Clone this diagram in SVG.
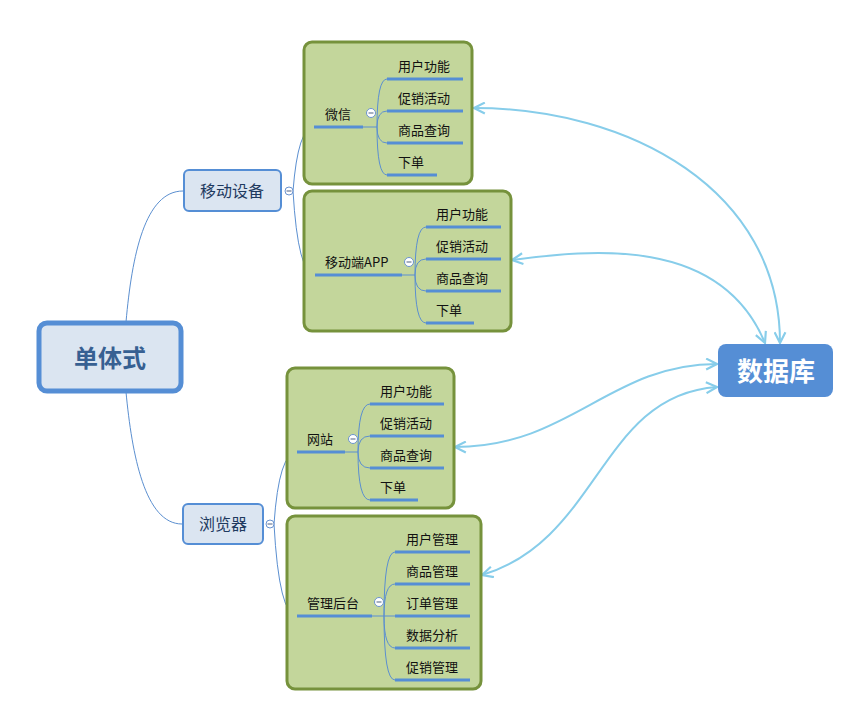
<svg xmlns="http://www.w3.org/2000/svg" width="854" height="710" viewBox="0 0 854 710">
<style>
text{font-family:"Noto Sans CJK SC","Noto Sans",sans-serif}
.node{fill:#dbe5f1;stroke:#558ed5;stroke-width:2}
.grp{fill:#c3d69b;stroke:#76923c;stroke-width:3}
.br{fill:none;stroke:#5b8fd0;stroke-width:1}
.ul{fill:none;stroke:#558ed5;stroke-width:3}
.sub{font-size:13px;fill:#111}
.col{fill:#fff;stroke:#6a93cf;stroke-width:1}
.minus{stroke:#6b7b96;stroke-width:1.2}
.rel{fill:none;stroke:#87cdea;stroke-width:2}
</style>
<defs>
<marker id="ah" viewBox="0 0 12 12" refX="11" refY="6" markerWidth="13" markerHeight="13" markerUnits="userSpaceOnUse" orient="auto-start-reverse">
<path d="M1,1 L11,6 L1,11" fill="none" stroke="#87cdea" stroke-width="2"/>
</marker>
</defs>

<g id="connectors">
<path class="br" d="M126,322 C132,255 145,191 183,191"/>
<path class="br" d="M126,392 C132,455 145,524 182,524"/>
<path class="br" d="M293,191 Q298,127 314,127"/>
<path class="br" d="M293,191 Q298,275 315,275"/>
<path class="br" d="M274,524 Q279,452 297,452"/>
<path class="br" d="M274,524 Q279,616 297,616"/>
<path class="rel" marker-start="url(#ah)" marker-end="url(#ah)" d="M474,108 C630,108 780,190 780,343"/>
<path class="rel" marker-start="url(#ah)" marker-end="url(#ah)" d="M512,260 C590,250 720,235 765,343"/>
<path class="rel" marker-start="url(#ah)" marker-end="url(#ah)" d="M455,447 C570,447 610,364 717,364"/>
<path class="rel" marker-start="url(#ah)" marker-end="url(#ah)" d="M482,575 C600,540 600,395 717,387"/>
</g>

<g id="root">
<rect x="39" y="323" width="142" height="68" rx="8" fill="#dbe5f1" stroke="#558ed5" stroke-width="5"/>
<text x="110" y="367" font-size="24" font-weight="bold" fill="#376092" text-anchor="middle">单体式</text>
</g>

<g id="mobile">
<rect class="node" x="184" y="170" width="97" height="41" rx="5"/>
<text x="232" y="197" font-size="16" fill="#1f3a5f" text-anchor="middle">移动设备</text>
<circle class="col" cx="289" cy="191" r="4"/>
<line class="minus" x1="286.5" y1="191" x2="291.5" y2="191"/>
</g>

<g id="browser">
<rect class="node" x="183" y="504" width="80" height="40" rx="5"/>
<text x="223" y="530" font-size="16" fill="#1f3a5f" text-anchor="middle">浏览器</text>
<circle class="col" cx="270" cy="524" r="4"/>
<line class="minus" x1="267.5" y1="524" x2="272.5" y2="524"/>
</g>

<g id="wechat">
<rect class="grp" x="304" y="42" width="168" height="142" rx="8"/>
<text class="sub" x="325" y="119">微信</text>
<path class="ul" d="M314,127 H363"/>
<path class="br" d="M363,127 H377 M377,127 Q377,79 387,79 M377,127 Q377,111 387,111 M377,127 Q377,143 387,143 M377,127 Q377,175 387,175"/>
<circle class="col" cx="371" cy="113" r="4.5"/>
<line class="minus" x1="368.5" y1="113" x2="373.5" y2="113"/>
<path class="ul" d="M387,79 H463 M387,111 H463 M387,143 H463 M387,175 H437"/>
<text class="sub" x="398" y="71">用户功能</text>
<text class="sub" x="398" y="103">促销活动</text>
<text class="sub" x="398" y="135">商品查询</text>
<text class="sub" x="398" y="167">下单</text>
</g>

<g id="mobileapp">
<rect class="grp" x="304" y="191" width="207" height="140" rx="8"/>
<text class="sub" x="325" y="267">移动端APP</text>
<path class="ul" d="M315,275 H402"/>
<path class="br" d="M402,275 H415 M415,275 Q415,227 426,227 M415,275 Q415,259 426,259 M415,275 Q415,291 426,291 M415,275 Q415,323 426,323"/>
<circle class="col" cx="409" cy="262" r="4.5"/>
<line class="minus" x1="406.5" y1="262" x2="411.5" y2="262"/>
<path class="ul" d="M426,227 H501 M426,259 H501 M426,291 H501 M426,323 H474"/>
<text class="sub" x="436" y="219">用户功能</text>
<text class="sub" x="436" y="251">促销活动</text>
<text class="sub" x="436" y="283">商品查询</text>
<text class="sub" x="436" y="315">下单</text>
</g>

<g id="website">
<rect class="grp" x="287" y="368" width="167" height="140" rx="8"/>
<text class="sub" x="307" y="444">网站</text>
<path class="ul" d="M297,452 H345"/>
<path class="br" d="M345,452 H358 M358,452 Q358,404 370,404 M358,452 Q358,436 370,436 M358,452 Q358,468 370,468 M358,452 Q358,500 370,500"/>
<circle class="col" cx="353" cy="439" r="4.5"/>
<line class="minus" x1="350.5" y1="439" x2="355.5" y2="439"/>
<path class="ul" d="M370,404 H444 M370,436 H444 M370,468 H444 M370,500 H418"/>
<text class="sub" x="380" y="396">用户功能</text>
<text class="sub" x="380" y="428">促销活动</text>
<text class="sub" x="380" y="460">商品查询</text>
<text class="sub" x="380" y="492">下单</text>
</g>

<g id="admin">
<rect class="grp" x="287" y="516" width="194" height="173" rx="8"/>
<text class="sub" x="307" y="608">管理后台</text>
<path class="ul" d="M297,616 H372"/>
<path class="br" d="M372,616 H384 M384,616 Q384,552 395,552 M384,616 Q384,584 395,584 M384,616 H395 M384,616 Q384,648 395,648 M384,616 Q384,680 395,680"/>
<circle class="col" cx="379" cy="602" r="4.5"/>
<line class="minus" x1="376.5" y1="602" x2="381.5" y2="602"/>
<path class="ul" d="M395,552 H470 M395,584 H470 M395,616 H470 M395,648 H470 M395,680 H470"/>
<text class="sub" x="406" y="544">用户管理</text>
<text class="sub" x="406" y="576">商品管理</text>
<text class="sub" x="406" y="608">订单管理</text>
<text class="sub" x="406" y="640">数据分析</text>
<text class="sub" x="406" y="672">促销管理</text>
</g>

<g id="database">
<rect x="718" y="344" width="115" height="53" rx="8" fill="#558ed5"/>
<text x="776" y="381" font-size="26" font-weight="bold" fill="#fff" text-anchor="middle">数据库</text>
</g>
</svg>
